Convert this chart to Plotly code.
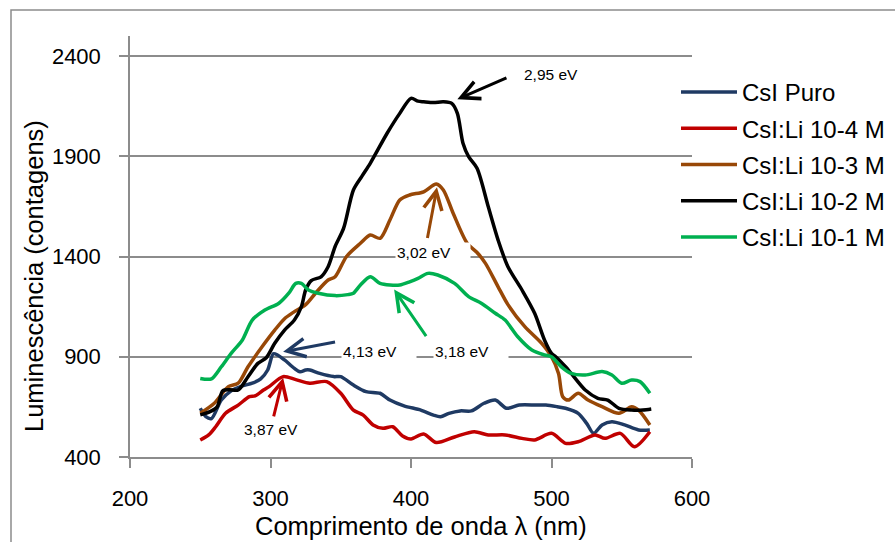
import plotly.graph_objects as go

# ---- data ----
puro_x = [250, 254, 258, 265, 272, 280, 287, 293, 298, 302, 305, 310, 317, 321, 325, 328, 335, 345, 350,
          359, 368, 378, 385, 395, 407, 416, 421, 427, 435, 443, 452, 460, 468, 477, 489, 496, 504, 510,
          519, 525, 530, 536, 543, 552, 562, 570]
puro_y = [643, 601, 592, 684, 730, 755, 768, 790, 834, 915, 909, 884, 842, 825, 834, 834, 817, 801, 801,
          759, 726, 718, 684, 655, 634, 609, 601, 618, 630, 630, 668, 684, 643, 659, 659, 659, 651, 643,
          618, 568, 518, 560, 576, 560, 535, 535]

li4_x = [250, 256, 261, 268, 277, 285, 289, 295, 299, 309, 318, 328, 340, 350, 359, 366, 373, 380, 387,
         394, 400, 409, 418, 431, 445, 455, 467, 479, 488, 500, 510, 519, 531, 538, 549, 559, 570]
li4_y = [485, 510, 551, 618, 659, 701, 705, 734, 751, 801, 786, 768, 776, 718, 634, 609, 560, 543, 551,
         505, 490, 515, 472, 500, 526, 510, 510, 493, 485, 518, 468, 476, 510, 493, 518, 451, 526]

li3_x = [250, 260, 270, 277, 284, 294, 303, 310, 317, 325, 332, 341, 346, 354, 364, 371, 378, 385, 392,
         399, 409, 418, 423, 430, 440, 447, 453, 462, 469, 481, 493, 500, 505, 508, 512, 519, 526, 536,
         548, 557, 562, 570]
li3_y = [618, 668, 751, 768, 850, 950, 1033, 1090, 1125, 1160, 1217, 1283, 1299, 1399, 1466, 1507, 1491,
         1582, 1682, 1707, 1723, 1762, 1732, 1616, 1466, 1420, 1366, 1249, 1160, 1050, 967, 900, 817, 701,
         684, 718, 684, 651, 618, 651, 634, 560]

li2_x = [250, 257, 262, 266, 271, 277, 284, 291, 297, 303, 310, 317, 322, 325, 329, 336, 341, 346, 352,
         359, 365, 371, 383, 392, 400, 405, 409, 416, 423, 429, 433, 437, 441, 447, 455, 462, 469, 479,
         488, 495, 500, 503, 510, 514, 524, 533, 540, 548, 557, 565, 571]
li2_y = [610, 626, 650, 730, 735, 734, 800, 867, 895, 967, 1033, 1083, 1150, 1233, 1280, 1299, 1349, 1450,
         1540, 1732, 1800, 1865, 2015, 2114, 2189, 2175, 2172, 2168, 2172, 2164, 2114, 1965, 1898, 1840,
         1648, 1482, 1349, 1233, 1117, 984, 917, 900, 850, 817, 734, 693, 684, 643, 634, 634, 639]

li1_x = [250, 258, 265, 272, 280, 287, 296, 306, 313, 318, 322, 327, 334, 346, 355, 359, 364, 371, 378,
         385, 392, 399, 405, 412, 419, 431, 441, 450, 460, 467, 476, 486, 495, 500, 507, 514, 524, 536,
         543, 550, 557, 563, 570]
li1_y = [792, 790, 850, 917, 984, 1083, 1133, 1167, 1217, 1266, 1266, 1233, 1217, 1205, 1210, 1217, 1258,
         1299, 1266, 1258, 1258, 1274, 1291, 1316, 1308, 1266, 1200, 1167, 1117, 1083, 1000, 934, 909, 900,
         850, 817, 809, 826, 809, 768, 784, 776, 718]

series_names = ["CsI Puro", "CsI:Li 10-4 M", "CsI:Li 10-3 M", "CsI:Li 10-2 M", "CsI:Li 10-1 M"]
series_colors = ["#1f3a63", "#c00000", "#984807", "#000000", "#00b050"]

y_ticks = [400, 900, 1400, 1900, 2400]
x_ticks = [200, 300, 400, 500, 600]

# peak labels: (text, head_x, head_y, tail_x, tail_y, colour)
peak_arrows = [
    ("2,95 eV", 433, 2185, 469, 2295, "#000000"),
    ("3,02 eV", 418.5, 1745, 411.5, 1485, "#984807"),
    ("4,13 eV", 309, 925, 347, 975, "#1f3a63"),
    ("3,18 eV", 388, 1235, 411.5, 995, "#00b050"),
    ("3,87 eV", 309, 795, 302, 595, "#c00000"),
]
# label positions (x, y) in data units
peak_label_pos = [(506, 2310), (415.3, 1420), (377.2, 925), (442.7, 925), (306.7, 535)]

FONT = "Liberation Sans, Arial, sans-serif"
GRID = "#8c8c8c"

fig = go.Figure()
all_x = [puro_x, li4_x, li3_x, li2_x, li1_x]
all_y = [puro_y, li4_y, li3_y, li2_y, li1_y]
for i, (xs, ys) in enumerate(zip(all_x, all_y)):
    fig.add_trace(go.Scatter(
        x=xs, y=ys, mode="lines", name=series_names[i],
        line=dict(color=series_colors[i], width=3.5, shape="spline", smoothing=0.8),
        legendgroup=f"g{i}",
    ))

annotations = []
for (txt, hx, hy, tx, ty, col), (lx, ly) in zip(peak_arrows, peak_label_pos):
    annotations.append(dict(
        x=hx, y=hy, ax=tx, ay=ty, xref="x", yref="y", axref="x", ayref="y",
        text="", showarrow=True, arrowhead=5, arrowsize=1.2, arrowwidth=3, arrowcolor=col,
    ))
    annotations.append(dict(
        x=lx, y=ly, xref="x", yref="y", text=txt, showarrow=False,
        font=dict(family=FONT, size=15.5, color="#000000"),
        bgcolor="#ffffff" if txt != "2,95 eV" else "rgba(0,0,0,0)",
        width=72, align="left", xanchor="center", yanchor="middle",
    ))

# axis titles
annotations.append(dict(
    x=(421 - 130) / 562, y=(457 - 526) / 421, xref="paper", yref="paper",
    text="Comprimento de onda λ (nm)", showarrow=False,
    font=dict(family=FONT, size=25.5, color="#000000"), xanchor="center", yanchor="middle",
))
annotations.append(dict(
    x=(34 - 130) / 562, y=(457 - 276) / 421, xref="paper", yref="paper",
    text="Luminescência (contagens)", showarrow=False, textangle=-90,
    font=dict(family=FONT, size=25.5, color="#000000"), xanchor="center", yanchor="middle",
))

fig.update_layout(
    width=895, height=542, autosize=False,
    margin=dict(l=130, r=203, t=36, b=85, autoexpand=False),
    paper_bgcolor="#ffffff", plot_bgcolor="#ffffff",
    font=dict(family=FONT, size=22, color="#000000"),
    showlegend=True,
    legend=dict(x=(676 - 130) / 562, y=(457 - 70) / 421, xanchor="left", yanchor="top",
                font=dict(family=FONT, size=24, color="#000000"),
                bgcolor="rgba(0,0,0,0)", itemwidth=56, tracegroupgap=2),
    annotations=annotations,
    shapes=[dict(type="rect", xref="paper", yref="paper",
                 x0=(11 - 130) / 562, x1=2.0, y0=-2.0, y1=(457 - 10) / 421,
                 line=dict(color="#8c8c8c", width=1.5), layer="below")],
)
fig.update_xaxes(range=[200, 600], tickvals=x_ticks, showgrid=False, zeroline=False,
                 showline=True, linecolor=GRID, linewidth=1.5,
                 ticks="outside", ticklen=9, tickcolor=GRID, tickwidth=1.5,
                 ticklabelstandoff=12, tickfont=dict(family=FONT, size=22, color="#000000"))
fig.update_yaxes(range=[400, 2500], tickvals=y_ticks, showgrid=True, gridcolor=GRID, gridwidth=1.5,
                 zeroline=False, showline=True, linecolor=GRID, linewidth=1.5,
                 ticks="outside", ticklen=9, tickcolor=GRID, tickwidth=1.5,
                 ticklabelstandoff=14, tickfont=dict(family=FONT, size=22, color="#000000"))

fig.write_html("out.html")
